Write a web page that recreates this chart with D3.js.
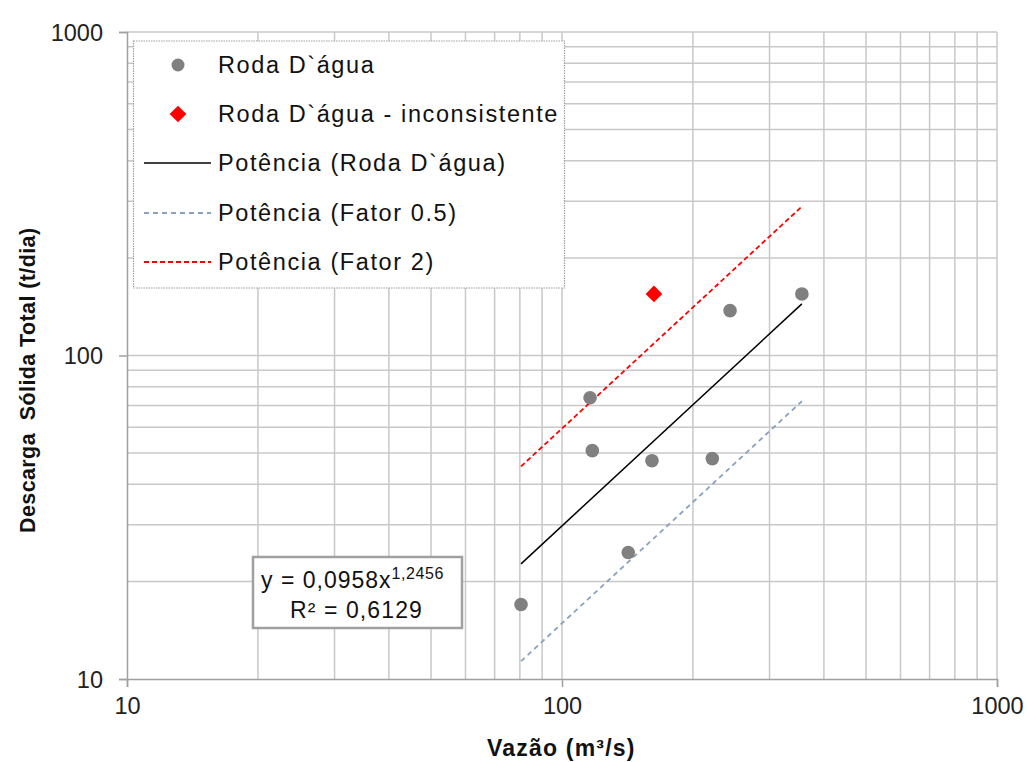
<!DOCTYPE html>
<html><head><meta charset="utf-8">
<script src="https://cdn.jsdelivr.net/npm/d3@7"></script>
<style>body{margin:0;background:#fff}svg text{font-family:"Liberation Sans",Arial,sans-serif}</style>
</head><body><svg id="c" width="1027" height="762"></svg>
<script>
// data
const vazao = [80.5, 116, 117.4, 142, 161, 221.6, 243.4, 356];
const descarga = [17.0, 74, 50.8, 24.6, 47.3, 48.0, 137.6, 155];
const incVazao = [162.7];
const incDescarga = [155];
const trendX = [80.5, 356];
const trendY = [22.7, 144.4];
const fator05Y = [11.35, 72.2];
const fator2Y = [45.4, 288.8];
const xTicks = [10, 100, 1000];
const yTicks = [10, 100, 1000];
const legendLabels = ["Roda D`água", "Roda D`água - inconsistente", "Potência (Roda D`água)", "Potência (Fator 0.5)", "Potência (Fator 2)"];

const svg = d3.select("#c");
const L = 127, R = 997, T = 32, B = 679;
const x = d3.scaleLog().domain([10, 1000]).range([L, R]);
const y = d3.scaleLog().domain([10, 1000]).range([B, T]);

// grid
const gridVals = [];
for (let d = 10; d < 1000; d *= 10) for (let k = 1; k <= 10; k++) gridVals.push(d * k);
const uniq = Array.from(new Set(gridVals.map(v => +v.toPrecision(3))));
const g = svg.append("g");
g.selectAll(".gx").data(uniq.filter(v => v > 10)).join("line")
  .attr("x1", d => x(d)).attr("x2", d => x(d)).attr("y1", T).attr("y2", B)
  .attr("stroke", "#c8c8c8").attr("stroke-width", 1.5);
g.selectAll(".gy").data(uniq.filter(v => v > 10)).join("line")
  .attr("y1", d => y(d)).attr("y2", d => y(d)).attr("x1", L).attr("x2", R)
  .attr("stroke", "#c8c8c8").attr("stroke-width", 1.5);

// axes
const xAxis = d3.axisBottom(x).tickValues(xTicks).tickFormat(d3.format("d")).tickSize(8).tickPadding(8);
const yAxis = d3.axisLeft(y).tickValues(yTicks).tickFormat(d3.format("d")).tickSize(8).tickPadding(16);
const gx = svg.append("g").attr("transform", `translate(0,${B})`).call(xAxis);
const gy = svg.append("g").attr("transform", `translate(${L},0)`).call(yAxis);
[gx, gy].forEach(a => {
  a.select(".domain").attr("stroke", "#a0a0a0").attr("stroke-width", 1.5);
  a.selectAll(".tick line").attr("stroke", "#a0a0a0").attr("stroke-width", 1.5);
  a.selectAll("text").attr("font-size", 23.5).attr("fill", "#222").attr("font-family", "Liberation Sans, Arial, sans-serif");
});
gy.selectAll("text").attr("dy", "0.36em");
gx.selectAll("text").attr("dy", "0.8em");

// trend lines
const line = d3.line().x(d => x(d[0])).y(d => y(d[1]));
svg.append("path").datum(trendX.map((v, i) => [v, fator2Y[i]])).attr("d", line)
  .attr("fill", "none").attr("stroke", "#ff0000").attr("stroke-width", 1.8).attr("stroke-dasharray", "5,3");
svg.append("path").datum(trendX.map((v, i) => [v, fator05Y[i]])).attr("d", line)
  .attr("fill", "none").attr("stroke", "#8aa0c0").attr("stroke-width", 1.8).attr("stroke-dasharray", "5,4");
svg.append("path").datum(trendX.map((v, i) => [v, trendY[i]])).attr("d", line)
  .attr("fill", "none").attr("stroke", "#000").attr("stroke-width", 1.5);

// points
svg.selectAll(".pt").data(vazao.map((v, i) => [v, descarga[i]])).join("circle")
  .attr("cx", d => x(d[0])).attr("cy", d => y(d[1])).attr("r", 6.8).attr("fill", "#808080");
const diamond = d3.symbol().type(d3.symbolSquare).size(140);
svg.selectAll(".inc").data(incVazao.map((v, i) => [v, incDescarga[i]])).join("path")
  .attr("d", diamond).attr("transform", d => `translate(${x(d[0])},${y(d[1])}) rotate(45)`).attr("fill", "#ff0000");

// legend
const lg = svg.append("g");
lg.append("rect").attr("x", 133.5).attr("y", 41).attr("width", 431).attr("height", 247)
  .attr("fill", "#fff").attr("stroke", "#a0a0a0").attr("stroke-width", 1.2).attr("stroke-dasharray", "1.5,1");
const rowY = [65, 114, 163, 213, 262];
lg.append("circle").attr("cx", 178).attr("cy", rowY[0]).attr("r", 6.5).attr("fill", "#808080");
lg.append("path").attr("d", diamond).attr("transform", `translate(178,${rowY[1]}) rotate(45)`).attr("fill", "#ff0000");
lg.append("line").attr("x1", 144).attr("x2", 211).attr("y1", rowY[2]).attr("y2", rowY[2]).attr("stroke", "#000").attr("stroke-width", 1.5);
lg.append("line").attr("x1", 144).attr("x2", 211).attr("y1", rowY[3]).attr("y2", rowY[3]).attr("stroke", "#8aa0c0").attr("stroke-width", 1.8).attr("stroke-dasharray", "5,4");
lg.append("line").attr("x1", 144).attr("x2", 211).attr("y1", rowY[4]).attr("y2", rowY[4]).attr("stroke", "#ff0000").attr("stroke-width", 1.8).attr("stroke-dasharray", "5,3");
lg.selectAll(".lt").data(legendLabels).join("text")
  .attr("x", 218).attr("y", (d, i) => rowY[i]).attr("dy", "0.36em")
  .attr("font-size", 23.5).attr("letter-spacing", 1.6).attr("fill", "#111").text(d => d);

// equation box
const eq = svg.append("g");
eq.append("rect").attr("x", 253).attr("y", 557).attr("width", 209).attr("height", 71)
  .attr("fill", "#fff").attr("stroke", "#a0a0a0").attr("stroke-width", 2.5);
const t1 = eq.append("text").attr("x", 261).attr("y", 588)
  .attr("font-size", 23).attr("letter-spacing", 1).attr("fill", "#111");
t1.append("tspan").text("y = 0,0958x");
t1.append("tspan").attr("dy", -9).attr("font-size", 16).attr("letter-spacing", 0.6).text("1,2456");
eq.append("text").attr("x", 290).attr("y", 618)
  .attr("font-size", 23).attr("letter-spacing", 1.1).attr("fill", "#111").text("R² = 0,6129");

// axis titles
svg.append("text").attr("x", 487).attr("y", 756)
  .attr("font-size", 23).attr("font-weight", "bold").attr("letter-spacing", 1.2).attr("fill", "#111").text("Vazão (m³/s)");
svg.append("text").attr("transform", "translate(35,533) rotate(-90)")
  .attr("font-size", 21.5).attr("font-weight", "bold").attr("letter-spacing", 0.4).attr("fill", "#111")
  .attr("xml:space", "preserve").style("white-space", "pre").text("Descarga  Sólida Total (t/dia)");
</script></body></html>
